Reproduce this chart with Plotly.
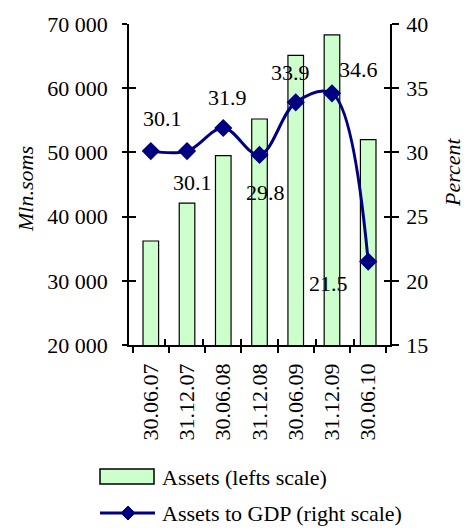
import plotly.graph_objects as go

dates = ["30.06.07", "31.12.07", "30.06.08", "31.12.08", "30.06.09", "31.12.09", "30.06.10"]
assets = [36200, 42100, 49500, 55200, 65100, 68300, 52000]
gdp_pct = [30.1, 30.1, 31.9, 29.8, 33.9, 34.6, 21.5]
left_ticks = [20000, 30000, 40000, 50000, 60000, 70000]
left_tick_text = ["20 000", "30 000", "40 000", "50 000", "60 000", "70 000"]
right_ticks = [15, 20, 25, 30, 35, 40]
bar_name = "Assets (lefts scale)"
line_name = "Assets to GDP (right scale)"

FONT = "Liberation Serif"
FS = 22
W, H = 466, 528
L, T = 129, 24
PW, PH = 261, 321
R, B = W - L - PW, H - T - PH

def px(x):
    return (x - L) / PW

def py(y):
    return (T + PH - y) / PH

fig = go.Figure()
fig.add_trace(go.Bar(
    x=dates, y=assets, name=bar_name,
    marker=dict(color="#ccffcc", line=dict(color="black", width=1.2)),
    width=0.43, yaxis="y", showlegend=False,
))
fig.add_trace(go.Scatter(
    x=dates, y=gdp_pct, name=line_name, yaxis="y2",
    mode="lines+markers",
    line=dict(color="#000080", width=3, shape="spline", smoothing=1),
    marker=dict(symbol="diamond", size=14, color="#000080"),
    showlegend=False,
))
# invisible helper traces for the inner half of crossing ticks
fig.add_trace(go.Scatter(x=dates, y=assets, xaxis="x2", yaxis="y3", mode="markers",
                         marker=dict(opacity=0), showlegend=False, hoverinfo="skip"))
fig.add_trace(go.Scatter(x=dates, y=gdp_pct, xaxis="x2", yaxis="y4", mode="markers",
                         marker=dict(opacity=0), showlegend=False, hoverinfo="skip"))

offs = [(12, 33), (5, -31), (4, 31), (6, -38), (-5, 30), (27, 24), (-40, -22)]
for d, v, (dx, dy) in zip(dates, gdp_pct, offs):
    fig.add_annotation(x=d, y=v, yref="y2", text=f"{v:.1f}", showarrow=False,
                       xshift=dx, yshift=dy, xanchor="center", yanchor="middle",
                       font=dict(family=FONT, size=FS, color="black"))

# axis titles
fig.add_annotation(x=px(26), y=py(189), xref="paper", yref="paper", text="<i>Mln.soms</i>",
                   textangle=-90, showarrow=False, xanchor="center", yanchor="middle",
                   font=dict(size=FS))
fig.add_annotation(x=px(452), y=py(173), xref="paper", yref="paper", text="<i>Percent</i>",
                   textangle=-90, showarrow=False, xanchor="center", yanchor="middle",
                   font=dict(size=FS))

# legend (drawn)
fig.add_shape(type="rect", xref="paper", yref="paper", x0=px(100), x1=px(154),
              y0=py(484), y1=py(469), fillcolor="#ccffcc", line=dict(color="black", width=1.5))
fig.add_annotation(x=px(160), y=py(477), xref="paper", yref="paper", text=bar_name,
                   xanchor="left", yanchor="middle", showarrow=False, font=dict(size=FS))
fig.add_shape(type="line", xref="paper", yref="paper", x0=px(100), x1=px(155),
              y0=py(513), y1=py(513), line=dict(color="#000080", width=3))
cx, cy, s = 128, 513, 7
fig.add_shape(type="path", xref="paper", yref="paper",
              path=f"M {px(cx - s)} {py(cy)} L {px(cx)} {py(cy - s)} L {px(cx + s)} {py(cy)} L {px(cx)} {py(cy + s)} Z",
              fillcolor="#000080", line=dict(color="#000080", width=1))
fig.add_annotation(x=px(160), y=py(513), xref="paper", yref="paper", text=line_name,
                   xanchor="left", yanchor="middle", showarrow=False, font=dict(size=FS))

axis_common = dict(showline=True, linecolor="black", linewidth=1.5, tickcolor="black",
                   tickwidth=1.5, showgrid=False, zeroline=False, automargin=False)

fig.update_layout(
    width=W, height=H,
    margin=dict(l=L, r=R, t=T, b=B, autoexpand=False),
    paper_bgcolor="white", plot_bgcolor="white",
    font=dict(family=FONT, size=FS, color="black"),
    showlegend=False,
    xaxis=dict(type="category", ticks="outside", tickson="boundaries", ticklen=6,
               tickangle=-90, ticklabelstandoff=8, **axis_common),
    xaxis2=dict(type="category", overlaying="x", ticks="inside", tickson="boundaries",
                ticklen=6, showticklabels=False, side="bottom", **axis_common),
    yaxis=dict(range=[20000, 70000], tickvals=left_ticks, ticktext=left_tick_text,
               ticks="outside", ticklen=5, ticklabelstandoff=10, **axis_common),
    yaxis3=dict(range=[20000, 70000], tickvals=left_ticks, overlaying="y", side="left",
                ticks="inside", ticklen=7, showticklabels=False, **axis_common),
    yaxis2=dict(range=[15, 40], tickvals=right_ticks, overlaying="y", side="right",
                ticks="outside", ticklen=7, ticklabelstandoff=3, **axis_common),
    yaxis4=dict(range=[15, 40], tickvals=right_ticks, overlaying="y", side="right",
                ticks="inside", ticklen=6, showticklabels=False, **axis_common),
)

fig.write_html("out.html", config={"displayModeBar": False},
               post_script="document.body.style.margin='0';document.body.style.overflow='hidden';")
